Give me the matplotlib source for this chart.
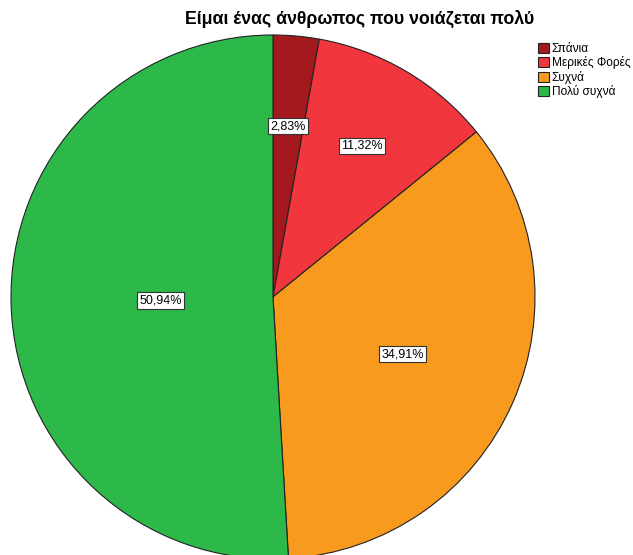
import numpy as np
import matplotlib.pyplot as plt

# Δεδομένα
categories = ['Σπάνια', 'Μερικές Φορές', 'Συχνά', 'Πολύ συχνά']
percents = [2.83, 11.32, 34.91, 50.94]
colors = ['#a3191e', '#f2363d', '#f79a1e', '#2db84a']
title = 'Είμαι ένας άνθρωπος που νοιάζεται πολύ'

# απόσταση κάθε ετικέτας από το κέντρο (κλάσμα ακτίνας)
label_dist = [0.655, 0.67, 0.54, 0.43]

plt.rcParams['font.family'] = ['Liberation Sans', 'DejaVu Sans']

fig = plt.figure(figsize=(6.33, 5.55), dpi=100)
ax = fig.add_axes([11 / 633, (258 - 262) / 555, 524 / 633, 524 / 555])

wedges, _ = ax.pie(percents, colors=colors, startangle=90, counterclock=False,
                   wedgeprops=dict(edgecolor='#222222', linewidth=0.8))
ax.set_xlim(-1, 1)
ax.set_ylim(-1, 1)
ax.set_aspect('equal')
ax.axis('off')

for w, p, d in zip(wedges, percents, label_dist):
    ang = np.deg2rad((w.theta1 + w.theta2) / 2)
    ax.text(d * np.cos(ang), d * np.sin(ang), f'{p:.2f}%'.replace('.', ','),
            ha='center', va='center', fontsize=9,
            bbox=dict(boxstyle='square,pad=0.18', facecolor='white',
                      edgecolor='#333333', linewidth=0.8))

fig.text(360 / 633, 1 - 19 / 555, title, ha='center', va='center',
         fontsize=12.8, fontweight='bold')

fig.legend(wedges, categories, loc='upper left',
           bbox_to_anchor=(533 / 633, 1 - 38 / 555), frameon=False,
           fontsize=8.6, handlelength=0.9, handleheight=0.9,
           handletextpad=0.25, labelspacing=0.12, borderaxespad=0)

fig.savefig('out.png', dpi=100)
